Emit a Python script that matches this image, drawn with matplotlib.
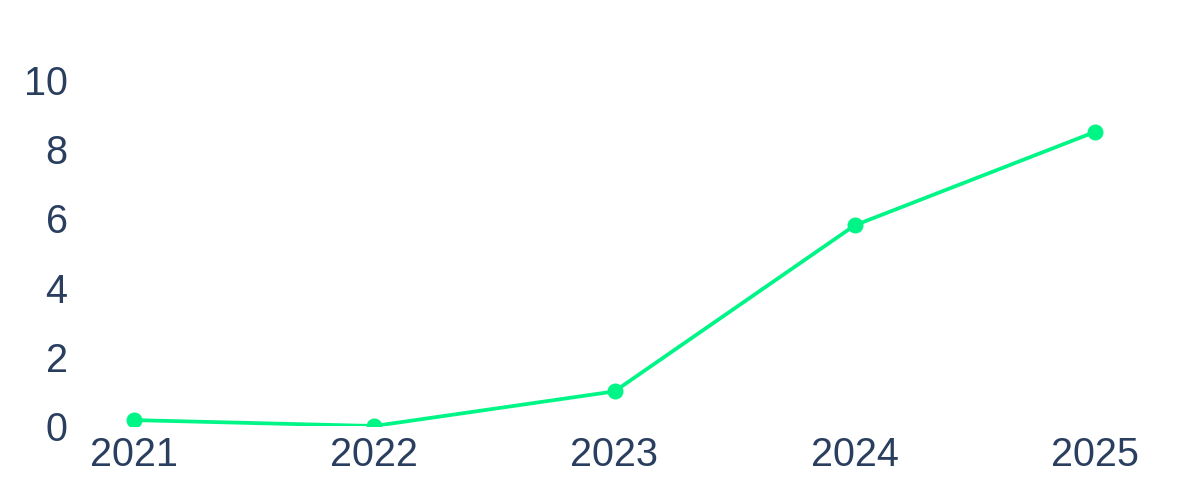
import matplotlib
matplotlib.use("Agg")
import matplotlib.pyplot as plt

years = [2021, 2022, 2023, 2024, 2025]
values = [0.17, 0.0, 1.0, 5.8, 8.5]
y_ticks = [0, 2, 4, 6, 8, 10]

plt.rcParams["font.family"] = ["Liberation Sans", "DejaVu Sans"]
text_color = "#2a3f5f"
line_color = "#00f587"

fig = plt.figure(figsize=(12, 5), dpi=100)
# axes spans x 80..1150 px, y 60..426 px
ax = fig.add_axes([80 / 1200, 1 - 426 / 500, 1070 / 1200, 366 / 500])

ax.plot(years, values, color=line_color, linewidth=2.7,
        marker="o", markersize=10.5, solid_capstyle="round")

px_per_year = 961 / 4
ax.set_xlim(2021 - 54 / px_per_year, 2025 + 55 / px_per_year)
ax.set_ylim(0, 366 / 34.6)

ax.set_xticks(years)
ax.set_xticklabels([str(y) for y in years])
ax.set_yticks(y_ticks)
ax.set_yticklabels([str(t) for t in y_ticks])

ax.tick_params(axis="both", length=0, labelsize=28.5, colors=text_color)
ax.tick_params(axis="y", pad=9)
ax.tick_params(axis="x", pad=7)

for spine in ax.spines.values():
    spine.set_visible(False)

fig.savefig("out.png", dpi=100, facecolor="white")
plt.close(fig)
